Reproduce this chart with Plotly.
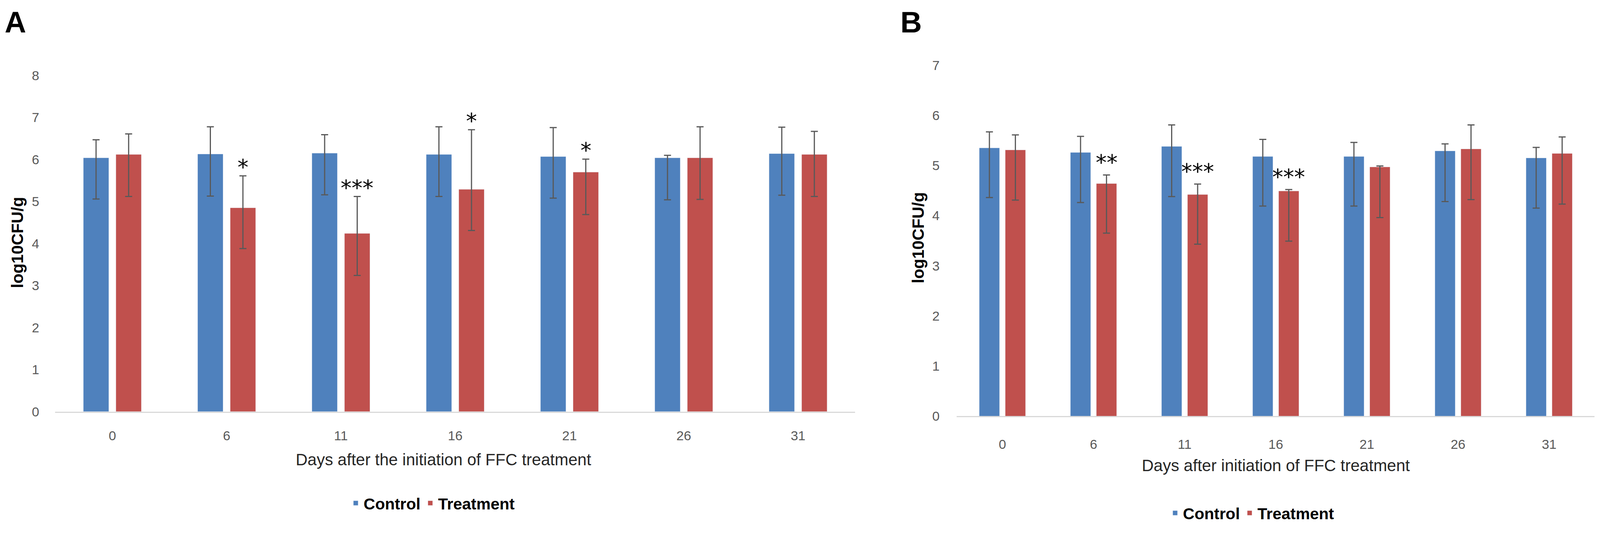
import plotly.graph_objects as go

# ---------------- data ----------------
days = ["0", "6", "11", "16", "21", "26", "31"]

# Panel A
a_control = [6.04, 6.13, 6.15, 6.12, 6.07, 6.04, 6.14]
a_control_up = [0.43, 0.65, 0.44, 0.66, 0.69, 0.06, 0.63]
a_control_down = [0.98, 1.00, 0.99, 1.00, 0.99, 1.00, 0.99]
a_treat = [6.12, 4.85, 4.24, 5.29, 5.70, 6.04, 6.12]
a_treat_up = [0.49, 0.76, 0.88, 1.42, 0.31, 0.74, 0.55]
a_treat_down = [1.00, 0.97, 1.00, 0.98, 1.01, 0.99, 1.00]
a_sig = ["", "*", "***", "*", "*", "", ""]

# Panel B
b_control = [5.35, 5.26, 5.38, 5.18, 5.18, 5.29, 5.15]
b_control_up = [0.32, 0.32, 0.43, 0.34, 0.28, 0.14, 0.21]
b_control_down = [0.99, 1.00, 1.00, 0.99, 0.99, 1.01, 1.00]
b_treat = [5.31, 4.64, 4.42, 4.49, 4.97, 5.33, 5.24]
b_treat_up = [0.30, 0.17, 0.21, 0.03, 0.02, 0.48, 0.33]
b_treat_down = [1.00, 0.99, 0.99, 1.00, 1.01, 1.01, 1.01]
b_sig = ["", "**", "***", "***", "", "", ""]

y_title = "log10CFU/g"
a_x_title = "Days after the initiation of FFC treatment"
b_x_title = "Days after initiation of FFC treatment"

# ---------------- style ----------------
W, H = 4550, 1376          # reference frame (positions below are in this frame)
BLUE = "#4F81BD"
RED = "#C0504D"
ERR = "#595959"
TICK = "#595959"
FONT = "Liberation Sans, Arial, sans-serif"
BARGAP = 0.43
GROUPGAP = 0.22

A_X = (157, 2432)
A_Y = (179, 1063)
B_X = (2721, 4535)
B_Y = (152, 1075)


def px2x(p):
    return p / W


def px2y(p):
    return 1 - p / H


def err(up, down):
    return dict(type="data", symmetric=False, array=up, arrayminus=down,
                color=ERR, thickness=3, width=9)


fig = go.Figure()

fig.add_trace(go.Bar(x=days, y=a_control, name="Control", marker_color=BLUE,
                     error_y=err(a_control_up, a_control_down),
                     xaxis="x", yaxis="y", legend="legend", offsetgroup="c"))
fig.add_trace(go.Bar(x=days, y=a_treat, name="Treatment", marker_color=RED,
                     error_y=err(a_treat_up, a_treat_down),
                     xaxis="x", yaxis="y", legend="legend", offsetgroup="t"))
fig.add_trace(go.Bar(x=days, y=b_control, name="Control", marker_color=BLUE,
                     error_y=err(b_control_up, b_control_down),
                     xaxis="x2", yaxis="y2", legend="legend2", offsetgroup="c"))
fig.add_trace(go.Bar(x=days, y=b_treat, name="Treatment", marker_color=RED,
                     error_y=err(b_treat_up, b_treat_down),
                     xaxis="x2", yaxis="y2", legend="legend2", offsetgroup="t"))

tickfont = dict(family=FONT, size=34, color=TICK)

common_x = dict(type="category", categoryorder="array", categoryarray=days,
                range=[-0.5, len(days) - 0.5], autorange=False,
                showline=True, linecolor="#D9D9D9", linewidth=3,
                ticks="", showgrid=False, zeroline=False, tickfont=tickfont)
common_y = dict(showgrid=False, zeroline=False, showline=False, ticks="",
                dtick=1, tickfont=tickfont)

annotations = []

# y-axis titles
for xc, yc in [(50, 619), (2611, 606)]:
    annotations.append(dict(text=y_title, x=px2x(xc), y=px2y(yc), xref="paper", yref="paper",
                            textangle=-90, showarrow=False, xanchor="center", yanchor="middle",
                            font=dict(family=FONT, size=42, color="#000000", weight="bold")))
# x-axis titles
for txt, xc, yc in [(a_x_title, 1261, 1189), (b_x_title, 3629, 1205)]:
    annotations.append(dict(text=txt, x=px2x(xc), y=px2y(yc), xref="paper", yref="paper",
                            showarrow=False, xanchor="center", yanchor="middle",
                            font=dict(family=FONT, size=42, color="#262626")))
# panel labels
for txt, xc in [("A", 44), ("B", 2591)]:
    annotations.append(dict(text=txt, x=px2x(xc), y=px2y(39), xref="paper", yref="paper",
                            showarrow=False, xanchor="center", yanchor="middle",
                            font=dict(family=FONT, size=76, color="#000000", weight="bold")))


# significance marks above the treatment error bars
# (x in category units: treatment bar centre = index + (1 - bargap) / 4)
def add_sig(sig, vals, ups, xref, yref, lift):
    off = (1 - BARGAP) / 4
    for i, (s, v, u) in enumerate(zip(sig, vals, ups)):
        if not s:
            continue
        annotations.append(dict(text=s, x=i + off, y=v + u, xref=xref, yref=yref,
                                yshift=lift, showarrow=False,
                                xanchor="center", yanchor="middle",
                                font=dict(family="DejaVu Sans", size=56, color="#000000")))


add_sig(a_sig, a_treat, a_treat_up, "x", "y", 22)
add_sig(b_sig, b_treat, b_treat_up, "x2", "y2", 32)

legend_font = dict(family=FONT, size=41, color="#000000", weight="bold")

fig.update_layout(
    width=W, height=H,
    margin=dict(l=0, r=0, t=0, b=0),
    paper_bgcolor="white", plot_bgcolor="white",
    barmode="group", bargap=BARGAP, bargroupgap=GROUPGAP,
    xaxis=dict(common_x, domain=[px2x(A_X[0]), px2x(A_X[1])], anchor="y",
               ticklabelstandoff=30),
    yaxis=dict(common_y, domain=[px2y(A_Y[1]), px2y(A_Y[0])], range=[0, 8], anchor="x",
               ticklabelstandoff=40),
    xaxis2=dict(common_x, domain=[px2x(B_X[0]), px2x(B_X[1])], anchor="y2",
                ticklabelstandoff=40),
    yaxis2=dict(common_y, domain=[px2y(B_Y[1]), px2y(B_Y[0])], range=[0, 7], anchor="x2",
                ticklabelstandoff=43),
    legend=dict(orientation="h", x=px2x(1230), y=px2y(1304), xanchor="center", yanchor="middle",
                font=legend_font, bgcolor="rgba(0,0,0,0)", itemwidth=30),
    legend2=dict(orientation="h", x=px2x(3560), y=px2y(1330), xanchor="center", yanchor="middle",
                 font=legend_font, bgcolor="rgba(0,0,0,0)", itemwidth=30),
    annotations=annotations,
    showlegend=True,
)

# the visible page may be narrower than the requested window: fit the figure to it
post = """
var gd = document.getElementById('{plot_id}');
document.body.style.margin = '0';
var w = window.innerWidth, h = window.innerHeight;
if (w > 0 && h > 0 && (w !== gd.layout.width || h !== gd.layout.height)) {
    Plotly.relayout(gd, {width: w, height: h});
}
"""

fig.write_html("out.html", post_script=post, config={"displayModeBar": False})
